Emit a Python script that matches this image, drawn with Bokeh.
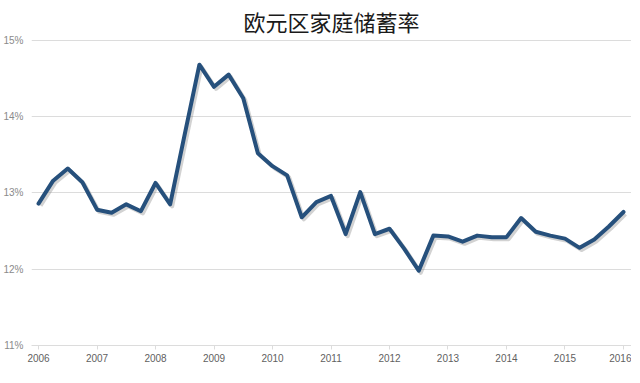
from bokeh.plotting import figure
from bokeh.models import ColumnDataSource, Range1d, PrintfTickFormatter, FixedTicker
from bokeh.transform import dodge
from bokeh.embed import file_html
from bokeh.resources import INLINE

# Quarterly euro-area household saving rate (%), 2006Q1 .. 2016Q1
start_year = 2006
saving_rate = [
    12.86, 13.16, 13.32, 13.14,   # 2006
    12.78, 12.74, 12.85, 12.76,   # 2007
    13.13, 12.85, 13.77, 14.68,   # 2008
    14.39, 14.55, 14.24, 13.52,   # 2009
    13.35, 13.23, 12.68, 12.88,   # 2010
    12.96, 12.46, 13.01, 12.46,   # 2011
    12.53, 12.27, 11.98, 12.44,   # 2012
    12.43, 12.36, 12.44, 12.42,   # 2013
    12.42, 12.67, 12.49, 12.44,   # 2014
    12.40, 12.28, 12.39, 12.56,   # 2015
    12.75,                        # 2016
]
year_ticks = [2006, 2007, 2008, 2009, 2010, 2011, 2012, 2013, 2014, 2015, 2016]
pct_ticks = [11, 12, 13, 14, 15]
title_text = "欧元区家庭储蓄率"

t = [start_year + i / 4 for i in range(len(saving_rate))]
src = ColumnDataSource(data=dict(t=t, v=saving_rate))

p = figure(frame_width=600, frame_height=306, output_backend="svg", toolbar_location=None,
           x_range=Range1d(2005.88, 2016.137), y_range=Range1d(11, 15.01),
           min_border_left=24, min_border_right=0, min_border_top=39,
           min_border_bottom=22)

p.title.text = title_text
p.title.align = "center"
p.title.text_font = "Noto Sans CJK SC"
p.title.text_font_size = "22px"
p.title.text_font_style = "normal"
p.title.text_color = "#1a1a1a"
p.title.standoff = 5
p.title.offset = -6

p.outline_line_color = None
p.background_fill_color = "white"
p.border_fill_color = "white"

# shadow then line
p.line(x=dodge("t", 0.035, range=p.x_range), y=dodge("v", -0.028, range=p.y_range),
       source=src, line_color="#7f7f7f", line_alpha=0.35, line_width=4,
       line_join="round")
p.line(x="t", y="v", source=src, line_color="#26507c", line_width=4,
       line_join="round", line_cap="round")

p.xgrid.visible = False
p.ygrid.grid_line_color = "#dcdcdc"
p.ygrid.grid_line_width = 1
p.ygrid.ticker = FixedTicker(ticks=pct_ticks)

p.xaxis.ticker = FixedTicker(ticks=year_ticks)
p.xaxis.axis_line_color = "#dcdcdc"
p.xaxis.major_tick_line_color = "#dcdcdc"
p.xaxis.major_tick_out = 4
p.xaxis.major_tick_in = 0
p.xaxis.minor_tick_line_color = None
p.xaxis.major_label_text_font = "Liberation Sans"
p.xaxis.major_label_text_font_size = "10px"
p.xaxis.major_label_text_color = "#5f5f5f"
p.xaxis.major_label_standoff = 4

p.yaxis.ticker = FixedTicker(ticks=pct_ticks)
p.yaxis.formatter = PrintfTickFormatter(format="%d%%")
p.yaxis.axis_line_color = None
p.yaxis.major_tick_line_color = None
p.yaxis.minor_tick_line_color = None
p.yaxis.major_label_text_font = "Liberation Sans"
p.yaxis.major_label_text_font_size = "10px"
p.yaxis.major_label_text_color = "#8a8a8a"
p.yaxis.major_label_standoff = 2

open("out.html", "w").write(file_html(p, INLINE))
